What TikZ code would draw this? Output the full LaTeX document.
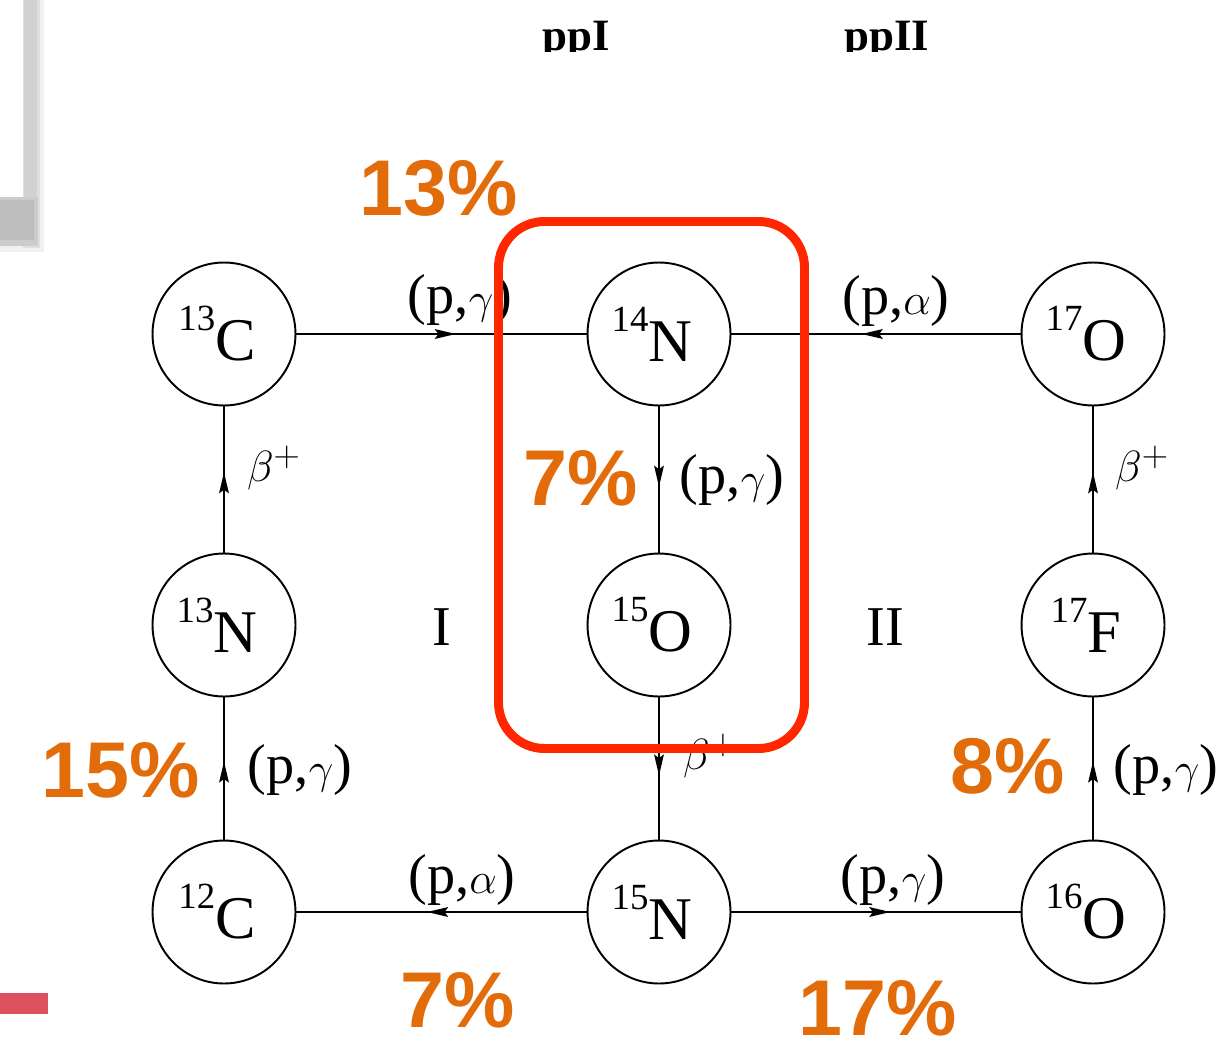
\documentclass[tikz,border=0pt]{standalone}
\usepackage{fontspec}
\setmainfont{Liberation Serif}
\newfontfamily\pctfont{Liberation Sans}
\usetikzlibrary{arrows.meta,decorations.markings}
\definecolor{pctorange}{RGB}{227,108,10}
\definecolor{boxred}{RGB}{255,38,0}
\definecolor{barred}{RGB}{221,80,93}
\newcommand\isot[2]{\raisebox{17pt}{\fontsize{21}{21}\selectfont #1}{\fontsize{34.5}{34}\selectfont #2}\kern8pt}
\begin{document}
\begin{tikzpicture}[x=0.02cm,y=-0.02cm,
  nuc/.style={circle,draw,line width=1.1pt,minimum size=2.86cm,inner sep=0pt},
  flow/.style={line width=1.15pt,postaction={decorate},
    decoration={markings,mark=at position 0.55 with {\arrow{Stealth[length=12pt,width=5.5pt,inset=2pt]}}}},
  lab/.style={font=\fontsize{32}{36}\selectfont,inner sep=0pt},
  pct/.style={font=\pctfont\bfseries\fontsize{45}{48}\selectfont,text=pctorange,inner sep=0pt},
  shade/.style={draw=none}
]
\useasboundingbox (0,0) rectangle (1226,1037);
% shadowed box at top left
\fill[gray!12,shade] (23,0) rectangle (44,252);
\fill[gray!12,shade] (0,197) rectangle (44,252);
\fill[gray!25,shade] (23,0) rectangle (40,248);
\fill[gray!35,shade] (24,0) rectangle (37,244);
\fill[gray!40,shade] (0,197) rectangle (38,246);
\fill[gray!52,shade] (0,200) rectangle (34,240);
% red bar bottom left
\fill[barred] (0,993) rectangle (48,1014);
% clipped headings
\begin{scope}
\clip (0,0) rectangle (1226,52);
\node[anchor=base,inner sep=0pt,font=\bfseries\fontsize{25.5}{28}\selectfont] (ppone) at (576,51) {ppI};
\node[anchor=base,inner sep=0pt,font=\bfseries\fontsize{25.5}{28}\selectfont] (pptwo) at (887,51) {ppII};
\end{scope}
% nuclei
\node[nuc] (c13) at (224,334) {\isot{13}{C}};
\node[nuc] (n14) at (659,334) {\isot{14}{N}};
\node[nuc] (o17) at (1093,334) {\isot{17}{O}};
\node[nuc] (n13) at (224,625) {\isot{13}{N}};
\node[nuc] (o15) at (659,625) {\isot{15}{O}};
\node[nuc] (f17) at (1093,625) {\isot{17}{F}};
\node[nuc] (c12) at (224,912) {\isot{12}{C}};
\node[nuc] (n15) at (659,912) {\isot{15}{N}};
\node[nuc] (o16) at (1093,912) {\isot{16}{O}};
% connectors
\draw[flow] (c13) -- (n14);
\draw[flow] (o17) -- (n14);
\draw[flow] (n14) -- (o15);
\draw[flow] (o15) -- (n15);
\draw[flow] (n15) -- (c12);
\draw[flow] (n15) -- (o16);
\draw[flow] (c12) -- (n13);
\draw[flow] (n13) -- (c13);
\draw[flow] (o16) -- (f17);
\draw[flow] (f17) -- (o17);
% reaction labels
\node[lab] (l1) at (460,300) {(p,$\gamma$)};
\node[lab] (l2) at (896,301) {(p,$\alpha$)};
\node[lab] (l3) at (732,480) {(p,$\gamma$)};
\node[lab] (l4) at (274,468) {$\beta^{+}$};
\node[lab] (l5) at (300,770) {(p,$\gamma$)};
\node[lab] (l6) at (710,756) {$\beta^{+}$};
\node[lab] (l7) at (462,880) {(p,$\alpha$)};
\node[lab] (l8) at (893,880) {(p,$\gamma$)};
\node[lab] (l9) at (1142,468) {$\beta^{+}$};
\node[lab] (l10) at (1166,770) {(p,$\gamma$)};
\node[lab] (cyc1) at (442,627) {I};
\node[lab] (cyc2) at (885,627) {II};
% highlight box
\draw[boxred,line width=5.1pt,rounded corners=0.92cm] (498.5,221.5) rectangle (804.5,748.5);
% percentages
\node[pct] (p1) at (439,188) {13\%};
\node[pct] (p2) at (581,478) {7\%};
\node[pct] (p3) at (121,770) {15\%};
\node[pct] (p4) at (1008,766) {8\%};
\node[pct] (p5) at (458,1000) {7\%};
\node[pct] (p6) at (878,1008) {17\%};
\end{tikzpicture}
\end{document}
